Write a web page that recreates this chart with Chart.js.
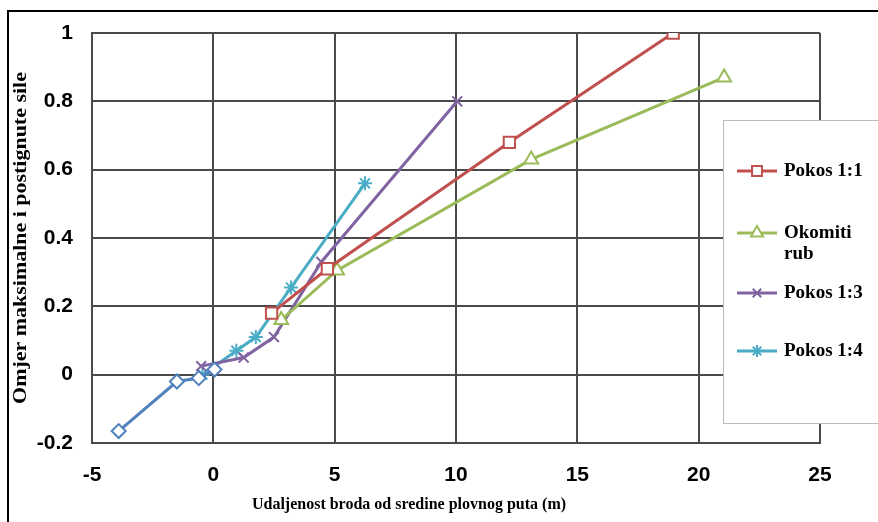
<!DOCTYPE html>
<html>
<head>
<meta charset="utf-8">
<title>Omjer sile</title>
<script src="https://cdn.jsdelivr.net/npm/chart.js@4/dist/chart.umd.min.js"></script>
<style>
html, body { margin: 0; padding: 0; background: #fff; }
#wrap { width: 878px; height: 522px; }
</style>
</head>
<body>
<div id="wrap"><canvas id="myChart" width="878" height="522"></canvas></div>
<script>
// values
var xTicks = [-5, 0, 5, 10, 15, 20, 25];
var yTicks = [-0.2, 0, 0.2, 0.4, 0.6, 0.8, 1];

var baseX = [-3.9, -1.5, -0.6, 0.05];
var baseY = [-0.165, -0.02, -0.01, 0.015];

var pokos11X = [2.4, 4.7, 12.2, 18.95];
var pokos11Y = [0.18, 0.31, 0.68, 1.0];

var okomitiX = [2.8, 5.1, 13.1, 21.05];
var okomitiY = [0.16, 0.305, 0.63, 0.87];

var pokos13X = [-0.5, 1.25, 2.5, 4.45, 10.05];
var pokos13Y = [0.025, 0.05, 0.11, 0.33, 0.80];

var pokos14X = [-0.45, 0.95, 1.75, 3.2, 6.25];
var pokos14Y = [0.0, 0.07, 0.11, 0.255, 0.56];

var legendLabels = [["Pokos 1:1"], ["Okomiti", "rub"], ["Pokos 1:3"], ["Pokos 1:4"]];

function pts(xs, ys) {
	return xs.map(function(x, i) { return {x: x, y: ys[i]}; });
}

function series(label, xs, ys, color, style, r) {
	return {
		label: label,
		data: pts(xs, ys),
		borderColor: color,
		backgroundColor: "#fff",
		pointBorderColor: color,
		pointBackgroundColor: "#fff",
		pointStyle: style,
		pointRadius: r,
		pointBorderWidth: 2,
		borderWidth: 3,
		tension: 0
	};
}

var datasets = [
	series("", baseX, baseY, "#4F81BD", "rectRot", 7),
	series("Pokos 1:1", pokos11X, pokos11Y, "#C0504D", "rect", 8),
	series("Okomiti rub", okomitiX, okomitiY, "#9BBB59", "triangle", 8),
	series("Pokos 1:3", pokos13X, pokos13Y, "#8064A2", "crossRot", 7),
	series("Pokos 1:4", pokos14X, pokos14Y, "#4BACC6", "star", 7)
];

var gridColor = "#4a4a4a";
var tickFont = { family: "'Liberation Sans', Arial, sans-serif", size: 21, weight: "bold" };
var serif = "'Liberation Serif', 'Times New Roman', serif";

// frame, axis titles and the boxed legend
var extras = {
	id: "extras",
	afterDraw: function(chart) {
		var ctx = chart.ctx;
		ctx.save();
		ctx.strokeStyle = "#000";
		ctx.lineWidth = 2;
		ctx.beginPath();
		ctx.moveTo(8, 522); ctx.lineTo(8, 11); ctx.lineTo(878, 11);
		ctx.stroke();

		ctx.fillStyle = "#000";
		ctx.font = "bold 16px " + serif;
		ctx.textAlign = "center";
		ctx.textBaseline = "middle";
		ctx.fillText("Udaljenost broda od sredine plovnog puta (m)", 409, 505);

		ctx.save();
		ctx.translate(21, 238);
		ctx.rotate(-Math.PI / 2);
		ctx.scale(1.22, 1);
		ctx.font = "bold 18px " + serif;
		ctx.fillText("Omjer maksimalne i postignute sile", 0, 0);
		ctx.restore();

		ctx.fillStyle = "#fff";
		ctx.strokeStyle = "#bdbdbd";
		ctx.lineWidth = 1;
		ctx.fillRect(723, 120, 160, 303);
		ctx.strokeRect(723.5, 120.5, 160, 303);

		var rows = [171, 233, 293, 351];
		ctx.font = "bold 19px " + serif;
		ctx.textAlign = "left";
		legendLabels.forEach(function(lines, i) {
			var ds = datasets[i + 1];
			var y = rows[i];
			ctx.strokeStyle = ds.borderColor;
			ctx.lineWidth = 3;
			ctx.beginPath();
			ctx.moveTo(737, y); ctx.lineTo(777, y);
			ctx.stroke();
			ctx.fillStyle = "#fff";
			ctx.lineWidth = 2;
			Chart.helpers.drawPoint(ctx, { pointStyle: ds.pointStyle, radius: ds.pointRadius - 1, rotation: 0, borderWidth: 2 }, 757, y);
			ctx.fillStyle = "#000";
			lines.forEach(function(t, j) {
				ctx.fillText(t, 784, y + j * 21);
			});
		});
		ctx.restore();
	}
};

new Chart(document.getElementById("myChart"), {
	type: "line",
	data: { datasets: datasets },
	options: {
		responsive: false,
		animation: false,
		layout: { padding: { top: 33, right: 58, left: 0, bottom: 0 } },
		plugins: { legend: { display: false }, tooltip: { enabled: false } },
		scales: {
			x: {
				type: "linear",
				min: -5,
				max: 25,
				afterBuildTicks: function(scale) { scale.ticks = xTicks.map(function(v) { return {value: v}; }); },
				afterFit: function(scale) { scale.height = 79; },
				grid: { color: gridColor, lineWidth: 2, drawTicks: false },
				border: { color: gridColor, width: 2 },
				ticks: { color: "#000", font: tickFont, padding: 20, maxRotation: 0 }
			},
			y: {
				type: "linear",
				min: -0.2,
				max: 1,
				afterBuildTicks: function(scale) { scale.ticks = yTicks.map(function(v) { return {value: v}; }); },
				afterFit: function(scale) { scale.width = 92; },
				grid: { color: gridColor, lineWidth: 2, drawTicks: false },
				border: { color: gridColor, width: 2 },
				ticks: {
					color: "#000",
					font: tickFont,
					padding: 19,
					callback: function(v) { return String(Math.round(v * 10) / 10); }
				}
			}
		}
	},
	plugins: [extras]
});
</script>
</body>
</html>
